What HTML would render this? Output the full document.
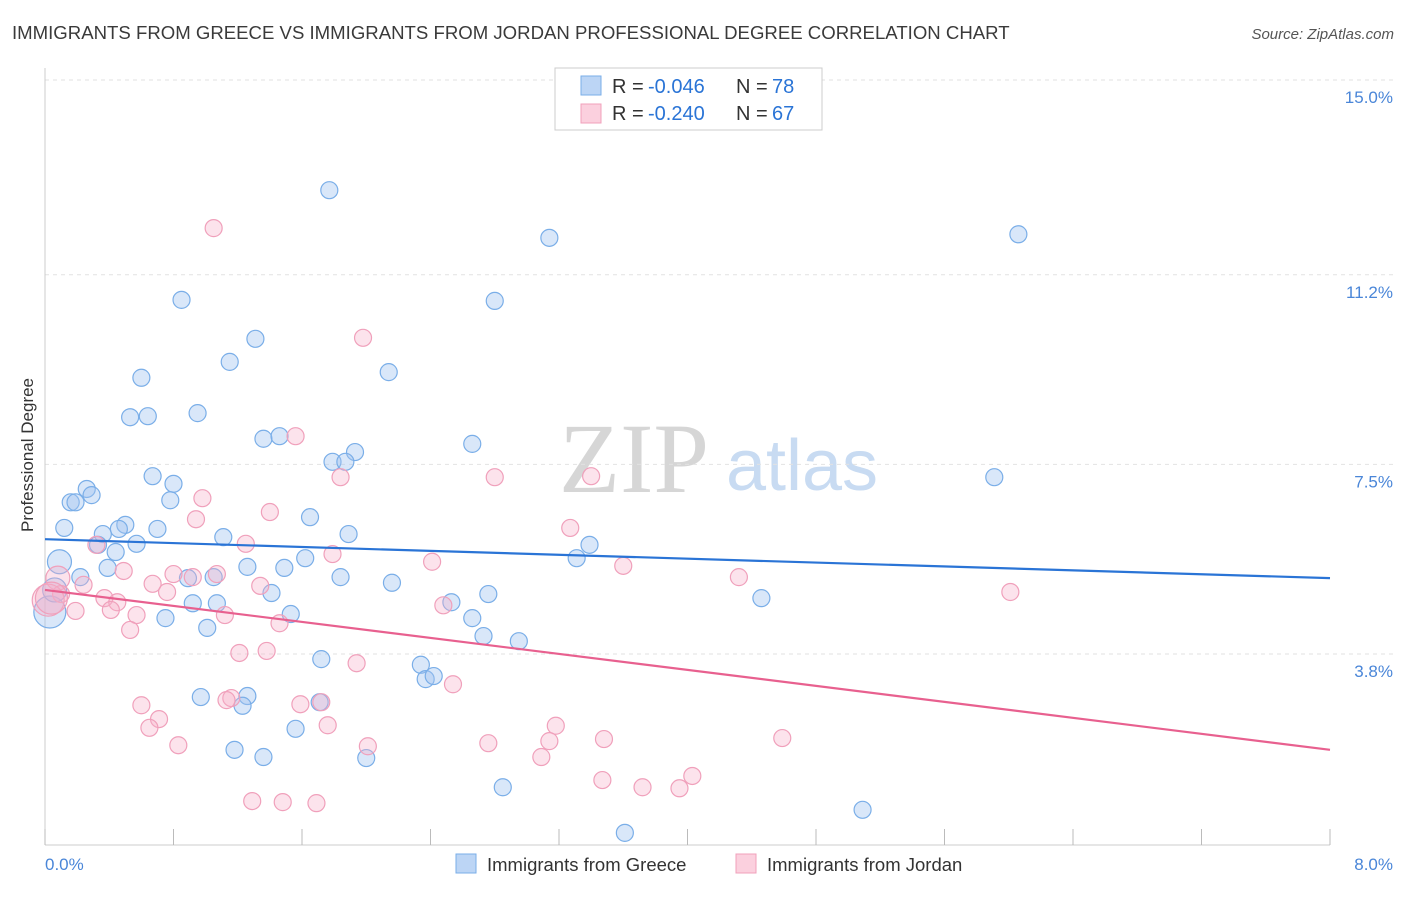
<!DOCTYPE html>
<html><head><meta charset="utf-8"><style>
body{margin:0;background:#fff;font-family:"Liberation Sans",sans-serif;}
</style></head><body>
<svg id="chart" width="1406" height="892" xmlns="http://www.w3.org/2000/svg" style="font-family:'Liberation Sans',sans-serif">
<text x="12" y="39" font-size="18.6" fill="#3a3a3a">IMMIGRANTS FROM GREECE VS IMMIGRANTS FROM JORDAN PROFESSIONAL DEGREE CORRELATION CHART</text>
<text x="1394" y="39" font-size="15" fill="#555" text-anchor="end" font-style="italic">Source: ZipAtlas.com</text>
<g>
<text x="634" y="492" font-size="100" fill="#d6d6d6" text-anchor="middle" style="font-family:'Liberation Serif',serif">ZIP</text>
<text x="802" y="490" font-size="72" fill="#c8dbf2" text-anchor="middle">atlas</text>
</g>
<g id="grid"></g>
<g id="axes"></g>
<g id="points"></g>
<g id="lines"></g>
<text transform="translate(33,455) rotate(-90)" font-size="17" fill="#333" text-anchor="middle">Professional Degree</text>
<g>
<rect x="555" y="68" width="267" height="62" fill="#fff" stroke="#ccc"/>
<g>
<rect x="581" y="76" width="20" height="19" fill="#bcd5f5" stroke="#7aaee8"/>
<text x="612" y="93" font-size="20" fill="#333">R =</text>
<text x="648" y="93" font-size="20" fill="#2a74d6">-0.046</text>
<text x="736" y="93" font-size="20" fill="#333">N =</text>
<text x="772" y="93" font-size="20" fill="#2a74d6">78</text>
</g>
<g>
<rect x="581" y="104" width="20" height="19" fill="#fbd0de" stroke="#f0a0bb"/>
<text x="612" y="120" font-size="20" fill="#333">R =</text>
<text x="648" y="120" font-size="20" fill="#2a74d6">-0.240</text>
<text x="736" y="120" font-size="20" fill="#333">N =</text>
<text x="772" y="120" font-size="20" fill="#2a74d6">67</text>
</g>
</g>
<g>
<g>
<rect x="456" y="854" width="20" height="19" fill="#bcd5f5" stroke="#7aaee8"/>
<text x="487" y="871" font-size="18.5" fill="#333">Immigrants from Greece</text></g>
<g>
<rect x="736" y="854" width="20" height="19" fill="#fbd0de" stroke="#f0a0bb"/>
<text x="767" y="871" font-size="18.5" fill="#333">Immigrants from Jordan</text></g>
</g>
</svg>
<script>
const yTicks=[15.0,11.2,7.5,3.8];
const yTickLabels=["15.0%","11.2%","7.5%","3.8%"];
const xTicks=[0,0.8,1.6,2.4,3.2,4.0,4.8,5.6,6.4,7.2,8.0];
const xEndLabels=["0.0%","8.0%"];
const greeceX=[1.77,3.14,6.06,0.85,2.80,1.31,1.15,2.14,0.60,0.95,0.53,0.64,1.36,1.46,2.66,1.93,1.79,1.87,0.67,0.80,5.91,0.26,0.29,0.16,0.19,0.78,1.65,0.12,0.50,0.70,0.46,0.36,1.11,1.89,0.33,0.57,0.44,3.39,3.31,1.62,0.09,0.39,1.26,1.49,0.22,1.05,0.89,1.84,2.16,1.41,2.76,4.46,2.53,0.92,1.07,0.75,1.53,2.66,1.01,2.73,2.95,1.72,2.34,2.37,2.42,0.97,1.26,1.71,1.23,1.56,1.18,1.36,2.00,2.85,5.09,3.61,0.03,0.06];
const greeceY=[12.85,11.92,11.99,10.71,10.69,9.95,9.50,9.30,9.19,8.50,8.42,8.44,8.00,8.05,7.90,7.74,7.55,7.55,7.27,7.12,7.25,7.02,6.90,6.76,6.76,6.80,6.47,6.26,6.32,6.24,6.24,6.14,6.08,6.14,5.93,5.95,5.79,5.93,5.67,5.67,5.60,5.48,5.50,5.48,5.30,5.30,5.28,5.30,5.19,4.99,4.97,4.89,4.81,4.79,4.79,4.50,4.58,4.50,4.31,4.15,4.05,3.70,3.59,3.31,3.37,2.96,2.98,2.86,2.79,2.34,1.93,1.79,1.77,1.20,0.76,0.31,4.62,5.05];
const jordanX=[1.05,1.98,1.56,2.80,3.40,1.84,0.98,1.40,0.94,3.27,0.32,1.25,1.79,2.41,3.60,4.32,0.49,0.08,0.80,1.07,0.92,0.67,1.34,0.24,6.01,0.76,0.10,0.37,0.45,2.48,0.19,0.41,0.57,1.12,1.46,0.53,1.21,1.38,1.94,2.54,0.60,1.16,1.13,1.59,1.72,0.71,0.65,1.76,3.18,0.83,3.48,2.76,3.14,2.01,4.59,3.09,4.03,3.47,3.72,3.95,1.29,1.48,1.69,0.02,0.04];
const jordanY=[12.11,9.97,8.05,7.25,7.27,7.25,6.84,6.57,6.43,6.26,5.93,5.95,5.75,5.60,5.52,5.30,5.42,5.28,5.36,5.36,5.30,5.17,5.13,5.15,5.01,5.01,4.97,4.89,4.81,4.75,4.64,4.66,4.56,4.56,4.40,4.27,3.82,3.86,3.62,3.21,2.80,2.94,2.90,2.82,2.86,2.53,2.36,2.41,2.40,2.02,2.14,2.06,2.10,2.00,2.16,1.79,1.42,1.34,1.20,1.18,0.93,0.91,0.89,4.85,4.89];
const greeceTrend=[6.04,5.28];
const jordanTrend=[5.05,1.93];
const NS="http://www.w3.org/2000/svg";
const X0=45,X1=1330,Y15=80,PPU=51.25;
function xs(v){return X0+v/8*(X1-X0);}
function ys(v){return Y15+(15-v)*PPU;}
function mk(tag,attrs,parent){const e=document.createElementNS(NS,tag);for(const k in attrs)e.setAttribute(k,attrs[k]);parent.appendChild(e);return e;}
const grid=document.getElementById('grid'),axes=document.getElementById('axes'),pts=document.getElementById('points'),lines=document.getElementById('lines');
yTicks.forEach((t,i)=>{
 const l=mk('line',{x1:X0,x2:1394,y1:ys(t),y2:ys(t),stroke:'#e2e2e2','stroke-dasharray':'4,4'},grid);
 
 
 const tx=mk('text',{x:1393,y:ys(t)+23,'font-size':17,fill:'#4a86d8','text-anchor':'end'},axes);
 tx.textContent=yTickLabels[i];
 
 
});
const ax=mk('line',{x1:X0,x2:X1,y1:845,y2:845,stroke:'#ccc'},axes);


const ay=mk('line',{x1:X0,x2:X0,y1:68,y2:845,stroke:'#ccc'},axes);


xTicks.forEach(t=>{
 const l=mk('line',{x1:xs(t),x2:xs(t),y1:829,y2:845,stroke:'#bbb'},axes);
 
 
});
const xl0=mk('text',{x:45,y:870,'font-size':17,fill:'#4a86d8'},axes);xl0.textContent=xEndLabels[0];


const xl1=mk('text',{x:1393,y:870,'font-size':17,fill:'#4a86d8','text-anchor':'end'},axes);xl1.textContent=xEndLabels[1];


function drawPts(X,Y,fill,stroke,name){
 X.forEach((x,i)=>{
  const r=(x<0.1)?(x<0.05?16:12):8.5;
  const c=mk('circle',{cx:xs(x),cy:ys(Y[i]),r:r,fill:fill,stroke:stroke,'stroke-width':1.2},pts);
  
  
 });
}
drawPts(greeceX,greeceY,'rgba(160,196,240,0.4)','#7aaee8','greece-point');
drawPts(jordanX,jordanY,'rgba(246,176,200,0.35)','#f0a0bb','jordan-point');
const bl=mk('line',{x1:xs(0),y1:ys(greeceTrend[0]),x2:xs(8),y2:ys(greeceTrend[1]),stroke:'#2a74d6','stroke-width':2.2},lines);


const pl=mk('line',{x1:xs(0),y1:ys(jordanTrend[0]),x2:xs(8),y2:ys(jordanTrend[1]),stroke:'#e8608f','stroke-width':2.2},lines);


</script>
</body></html>
